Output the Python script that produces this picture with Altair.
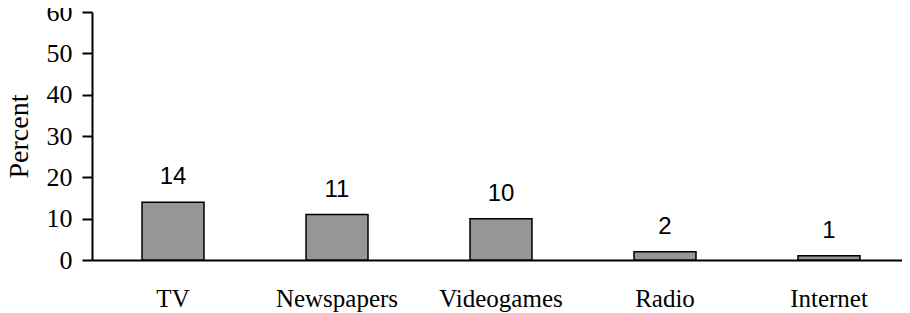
import altair as alt
import pandas as pd

categories = ["TV", "Newspapers", "Videogames", "Radio", "Internet"]
values = [14, 11, 10, 2, 1]
title_text = "Media Use by Child's Age"

df = pd.DataFrame({"medium": categories, "pct": values})

serif = "Liberation Serif"
sans = "Liberation Sans, Arial, sans-serif"

xscale = alt.Scale(paddingInner=0.622, paddingOuter=0.305, range=[0, 818])
yscale = alt.Scale(domain=[0, 60])

base = alt.Chart(df)

bars = base.mark_bar(color="#969696", stroke="black", strokeWidth=1.5).encode(
    x=alt.X("medium:N", sort=categories, scale=xscale,
            axis=alt.Axis(title=None, labelAngle=0, ticks=False, labelPadding=26,
                          labelFont=serif, labelFontSize=25, labelColor="black",
                          domainColor="black", domainWidth=2, grid=False)),
    y=alt.Y("pct:Q", scale=yscale,
            axis=alt.Axis(title="Percent", values=[0, 10, 20, 30, 40, 50, 60],
                          tickSize=10, tickWidth=2, tickColor="black",
                          labelPadding=10, labelFont=serif, labelFontSize=26,
                          labelColor="black", domainColor="black", domainWidth=2,
                          grid=False, titleFont=serif, titleFontSize=28,
                          titleFontWeight="normal", titleColor="black",
                          titlePadding=13)),
)

labels = base.mark_text(font=sans, fontSize=24, color="black",
                        baseline="alphabetic", dy=-18).encode(
    x=alt.X("medium:N", sort=categories, scale=xscale),
    y=alt.Y("pct:Q", scale=yscale),
    text=alt.Text("pct:Q"),
)

title = alt.Chart(pd.DataFrame({"t": [title_text]})).mark_text(
    font=serif, fontSize=30, fontWeight="bold", color="black",
    align="left", baseline="alphabetic"
).encode(text="t:N", x=alt.value(64), y=alt.value(-10))

chart = alt.layer(bars, labels, title).properties(
    width=810, height=248,
    background="white",
    autosize=alt.AutoSizeParams(type="none"),
    padding={"left": 84, "top": 4, "right": 0, "bottom": 53},
).configure_view(stroke="transparent", strokeWidth=0)

chart.save("out.html", embed_options={"renderer": "svg", "actions": False})
